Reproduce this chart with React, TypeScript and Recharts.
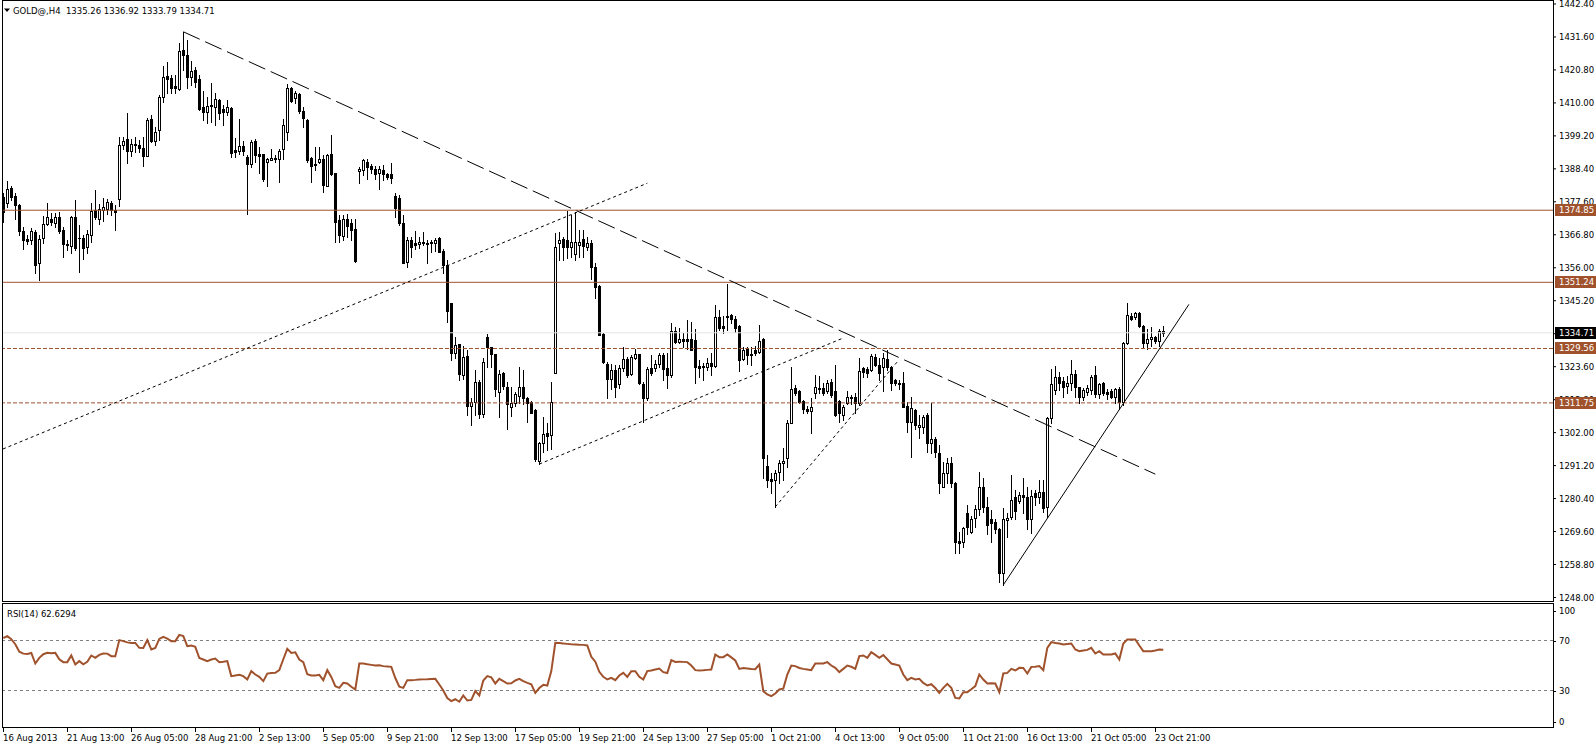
import React from "react";
import { ComposedChart, Bar, Line, XAxis, YAxis, ReferenceLine } from "recharts";

const FONT = "'DejaVu Sans', Verdana, sans-serif";
const SIENNA = "#a0522d";

// H4 candles, one per bar index
const OPEN = [
  1379.3, 1377.3, 1382.0, 1379.5, 1376.5, 1368.1, 1365.5, 1365.1, 1367.7, 1357.4,
  1365.6, 1370.3, 1372.1, 1370.8, 1372.6, 1368.4, 1363.7, 1363.1, 1372.7, 1365.9,
  1365.9, 1362.9, 1366.6, 1374.9, 1372.1, 1374.9, 1375.4, 1377.2, 1374.9, 1378.4,
  1396.2, 1398.2, 1394.4, 1396.4, 1396.1, 1395.2, 1392.7, 1404.7, 1397.6, 1401.1,
  1412.0, 1418.8, 1418.2, 1415.5, 1414.6, 1427.3, 1425.8, 1418.6, 1420.8, 1417.8,
  1408.8, 1406.9, 1409.3, 1408.8, 1411.0, 1407.9, 1406.9, 1408.2, 1394.6, 1394.1,
  1395.9, 1392.4, 1389.9, 1397.6, 1393.3, 1393.2, 1390.5, 1391.3, 1391.9, 1391.6,
  1394.8, 1400.6, 1414.8, 1411.5, 1412.9, 1407.4, 1404.4, 1391.8, 1390.0, 1390.8,
  1391.6, 1382.9, 1393.2, 1386.9, 1371.6, 1366.4, 1371.9, 1370.8, 1368.6, 1387.8,
  1388.0, 1390.6, 1389.3, 1388.5, 1386.9, 1388.0, 1386.7, 1386.7, 1379.5, 1378.8,
  1370.6, 1358.0, 1365.1, 1364.0, 1363.7, 1364.6, 1364.2, 1364.6, 1364.2, 1365.9,
  1361.5, 1356.9, 1344.4, 1328.0, 1330.9, 1320.8, 1327.1, 1310.7, 1312.1, 1318.5,
  1308.0, 1333.4, 1329.9, 1327.7, 1315.4, 1321.6, 1317.1, 1310.5, 1311.6, 1314.0,
  1316.8, 1313.2, 1312.0, 1309.4, 1292.8, 1298.7, 1302.0, 1301.2, 1321.6, 1364.2,
  1365.3, 1365.1, 1362.7, 1360.5, 1363.5, 1365.3, 1362.7, 1364.2, 1356.4, 1350.0,
  1334.3, 1324.5, 1319.5, 1322.5, 1317.8, 1323.1, 1326.1, 1321.1, 1326.3, 1327.7,
  1317.9, 1313.5, 1323.1, 1323.3, 1324.5, 1327.4, 1323.3, 1320.9, 1335.3, 1331.8,
  1332.6, 1332.6, 1332.6, 1332.3, 1323.8, 1323.4, 1323.4, 1324.7, 1323.8, 1339.8,
  1336.9, 1339.8, 1340.5, 1339.1, 1336.9, 1326.0, 1329.3, 1327.7, 1329.1, 1328.5,
  1332.6, 1291.1, 1286.7, 1286.5, 1289.2, 1292.1, 1293.6, 1305.3, 1316.5, 1315.7,
  1312.5, 1309.7, 1309.0, 1314.9, 1316.5, 1316.5, 1315.7, 1318.7, 1315.6, 1312.5,
  1307.8, 1311.6, 1313.2, 1313.8, 1311.6, 1323.1, 1322.7, 1322.5, 1326.7, 1324.2,
  1323.6, 1326.0, 1323.4, 1319.2, 1318.4, 1318.4, 1310.7, 1305.6, 1309.4, 1303.7,
  1304.0, 1307.8, 1298.7, 1299.8, 1295.4, 1284.3, 1288.9, 1291.9, 1285.6, 1266.5,
  1266.3, 1275.6, 1269.6, 1274.2, 1276.9, 1284.1, 1277.5, 1273.6, 1272.8, 1270.3,
  1256.1, 1273.4, 1274.5, 1280.8, 1279.7, 1281.6, 1281.0, 1273.6, 1282.1, 1280.8,
  1282.6, 1277.5, 1306.7, 1315.9, 1320.1, 1319.0, 1317.3, 1318.1, 1321.2, 1316.8,
  1313.8, 1315.4, 1316.0, 1320.9, 1314.6, 1318.1, 1315.4, 1315.7, 1313.8, 1316.2,
  1312.1, 1331.2, 1340.2, 1339.8, 1341.3, 1336.9, 1331.3, 1332.6, 1333.2, 1332.1,
  1335.26,
];

const HIGH = [
  1380.4, 1384.5, 1382.8, 1380.4, 1377.0, 1369.4, 1366.7, 1368.9, 1368.4, 1366.7,
  1372.9, 1377.3, 1373.8, 1374.0, 1374.2, 1369.4, 1365.1, 1372.9, 1378.2, 1370.0,
  1366.7, 1368.4, 1377.1, 1381.5, 1376.9, 1378.9, 1378.6, 1377.9, 1376.4, 1398.9,
  1398.9, 1406.6, 1398.1, 1398.7, 1397.9, 1398.9, 1404.9, 1406.0, 1402.2, 1412.6,
  1422.1, 1423.4, 1419.1, 1419.1, 1429.5, 1433.3, 1430.6, 1423.7, 1421.9, 1419.1,
  1414.0, 1412.0, 1416.4, 1413.4, 1411.2, 1409.3, 1411.0, 1408.5, 1398.4, 1404.6,
  1397.6, 1392.9, 1397.8, 1398.1, 1395.5, 1393.4, 1391.8, 1394.8, 1392.9, 1394.8,
  1404.6, 1416.2, 1415.3, 1413.9, 1413.4, 1408.8, 1404.6, 1392.4, 1395.7, 1395.4,
  1392.9, 1393.2, 1399.5, 1387.1, 1373.3, 1373.3, 1373.6, 1371.9, 1371.9, 1389.1,
  1391.5, 1391.5, 1390.0, 1389.3, 1389.3, 1389.7, 1386.9, 1390.4, 1380.4, 1379.8,
  1373.3, 1366.2, 1366.2, 1368.2, 1366.2, 1367.8, 1365.1, 1365.1, 1365.6, 1366.2,
  1362.0, 1358.6, 1344.6, 1333.4, 1331.0, 1330.4, 1329.1, 1313.2, 1322.5, 1319.2,
  1326.3, 1334.3, 1330.2, 1327.9, 1322.5, 1322.0, 1318.7, 1317.1, 1315.4, 1323.4,
  1322.5, 1313.6, 1312.2, 1309.6, 1299.0, 1307.2, 1305.0, 1318.7, 1367.3, 1367.8,
  1366.2, 1374.7, 1373.3, 1374.4, 1368.4, 1368.4, 1366.2, 1365.1, 1357.5, 1350.2,
  1334.5, 1325.2, 1324.5, 1324.1, 1324.1, 1329.9, 1326.9, 1327.4, 1329.3, 1327.9,
  1318.7, 1323.6, 1327.4, 1325.8, 1328.0, 1328.0, 1328.0, 1338.0, 1336.5, 1336.2,
  1334.5, 1338.9, 1338.3, 1335.8, 1325.8, 1324.9, 1326.3, 1328.0, 1343.8, 1342.2,
  1340.2, 1350.7, 1340.9, 1340.2, 1337.3, 1329.9, 1330.2, 1329.9, 1330.4, 1337.3,
  1332.9, 1294.7, 1288.7, 1289.8, 1293.0, 1296.9, 1306.1, 1323.6, 1317.6, 1315.9,
  1312.7, 1310.7, 1313.2, 1320.9, 1320.5, 1318.1, 1319.2, 1319.5, 1324.2, 1312.7,
  1311.0, 1315.7, 1314.3, 1315.1, 1326.3, 1323.4, 1323.6, 1327.8, 1327.8, 1326.3,
  1328.0, 1329.1, 1323.8, 1319.5, 1319.2, 1322.0, 1312.1, 1313.8, 1309.6, 1307.8,
  1307.8, 1308.5, 1311.8, 1300.5, 1297.9, 1292.5, 1293.6, 1293.9, 1285.9, 1269.6,
  1271.2, 1278.3, 1274.7, 1278.3, 1289.2, 1287.0, 1281.0, 1276.6, 1273.6, 1270.6,
  1277.2, 1275.8, 1288.1, 1283.2, 1282.6, 1287.0, 1284.3, 1283.2, 1283.2, 1286.5,
  1286.5, 1307.2, 1322.7, 1323.8, 1321.9, 1320.3, 1320.5, 1325.8, 1322.5, 1317.0,
  1316.5, 1317.6, 1320.9, 1323.8, 1318.4, 1318.7, 1316.2, 1316.2, 1316.5, 1316.8,
  1331.8, 1344.4, 1341.1, 1341.6, 1341.6, 1337.3, 1335.8, 1336.5, 1333.6, 1336.0,
  1336.92,
];

const LOW = [
  1370.9, 1376.0, 1378.2, 1371.9, 1366.7, 1362.2, 1363.8, 1363.8, 1354.2, 1352.0,
  1364.2, 1369.9, 1370.0, 1369.2, 1367.3, 1359.6, 1361.8, 1361.0, 1361.8, 1354.7,
  1359.0, 1360.7, 1364.5, 1371.9, 1370.5, 1371.4, 1373.6, 1373.4, 1368.4, 1376.2,
  1394.8, 1390.4, 1392.7, 1394.0, 1394.0, 1389.4, 1392.5, 1397.3, 1396.1, 1397.8,
  1410.4, 1413.4, 1413.4, 1413.1, 1414.2, 1420.8, 1415.0, 1415.9, 1415.3, 1407.7,
  1404.4, 1403.3, 1403.8, 1402.8, 1404.6, 1402.8, 1406.0, 1392.4, 1392.2, 1393.2,
  1392.9, 1373.5, 1389.1, 1390.8, 1386.9, 1384.5, 1382.9, 1391.2, 1390.8, 1384.2,
  1391.5, 1397.8, 1410.4, 1409.9, 1406.6, 1402.2, 1390.8, 1384.2, 1388.0, 1390.2,
  1380.9, 1382.8, 1386.4, 1364.6, 1364.6, 1365.1, 1366.2, 1365.1, 1358.0, 1383.9,
  1386.4, 1385.0, 1386.9, 1385.0, 1381.7, 1384.7, 1385.0, 1383.9, 1372.7, 1370.0,
  1357.5, 1356.4, 1359.6, 1362.0, 1362.4, 1363.5, 1357.5, 1361.3, 1361.6, 1361.1,
  1354.2, 1338.3, 1325.8, 1326.3, 1319.2, 1319.5, 1307.8, 1304.5, 1307.8, 1306.7,
  1307.2, 1323.4, 1323.6, 1314.0, 1307.2, 1316.2, 1303.1, 1307.4, 1310.7, 1311.6,
  1311.4, 1305.6, 1308.3, 1292.8, 1291.7, 1295.8, 1296.3, 1296.5, 1321.4, 1358.6,
  1358.6, 1359.1, 1359.6, 1358.6, 1359.6, 1359.6, 1361.8, 1352.2, 1346.0, 1334.0,
  1324.9, 1313.2, 1316.2, 1313.8, 1316.5, 1322.3, 1320.1, 1320.9, 1326.0, 1317.9,
  1305.6, 1312.7, 1320.9, 1322.3, 1323.4, 1319.2, 1316.5, 1320.1, 1331.5, 1331.3,
  1330.1, 1329.3, 1329.0, 1318.4, 1320.3, 1319.4, 1322.5, 1320.9, 1323.6, 1335.6,
  1334.5, 1335.6, 1337.8, 1335.1, 1322.3, 1325.8, 1324.5, 1324.1, 1327.4, 1328.0,
  1287.0, 1284.1, 1282.1, 1277.7, 1285.4, 1286.5, 1290.8, 1305.0, 1314.3, 1311.8,
  1308.5, 1308.3, 1302.0, 1313.2, 1314.9, 1314.3, 1314.9, 1313.8, 1307.4, 1305.6,
  1306.3, 1311.4, 1311.4, 1308.3, 1311.0, 1320.3, 1320.1, 1322.3, 1323.8, 1319.2,
  1315.7, 1322.5, 1316.0, 1317.6, 1316.2, 1310.3, 1302.3, 1294.1, 1303.1, 1300.1,
  1301.8, 1295.8, 1295.4, 1294.1, 1282.3, 1284.1, 1285.6, 1284.3, 1262.5, 1262.5,
  1264.6, 1268.8, 1269.0, 1271.2, 1275.0, 1276.1, 1268.8, 1266.3, 1269.2, 1253.2,
  1252.1, 1267.9, 1273.6, 1273.6, 1278.8, 1275.6, 1270.3, 1269.0, 1278.3, 1278.8,
  1276.1, 1274.5, 1305.0, 1314.6, 1316.0, 1313.8, 1314.9, 1316.0, 1313.6, 1311.6,
  1312.7, 1314.3, 1314.6, 1313.8, 1313.2, 1314.3, 1312.9, 1313.2, 1311.6, 1309.9,
  1311.0, 1331.0, 1338.9, 1339.1, 1336.5, 1329.6, 1329.3, 1330.4, 1331.5, 1330.5,
  1333.79,
];

const CLOSE = [
  1374.4, 1381.7, 1379.3, 1376.4, 1368.1, 1365.1, 1364.9, 1368.0, 1356.9, 1365.4,
  1370.3, 1372.5, 1371.0, 1372.5, 1368.1, 1363.8, 1363.4, 1372.7, 1362.5, 1365.6,
  1362.6, 1366.9, 1374.7, 1372.5, 1375.1, 1376.0, 1377.5, 1374.9, 1374.4, 1396.1,
  1397.4, 1394.4, 1396.5, 1396.1, 1395.2, 1392.7, 1404.4, 1397.6, 1400.4, 1411.8,
  1418.6, 1417.9, 1415.0, 1415.0, 1427.1, 1425.7, 1418.6, 1420.4, 1417.0, 1408.0,
  1407.1, 1409.0, 1409.1, 1411.2, 1406.6, 1406.9, 1408.6, 1393.7, 1393.8, 1395.9,
  1394.4, 1389.9, 1397.3, 1392.9, 1392.7, 1385.0, 1391.6, 1391.8, 1391.5, 1394.2,
  1402.8, 1414.8, 1410.7, 1413.1, 1407.4, 1405.2, 1391.3, 1389.3, 1389.6, 1391.6,
  1383.1, 1392.9, 1386.7, 1371.1, 1366.7, 1371.9, 1369.8, 1368.4, 1358.2, 1388.3,
  1391.3, 1388.9, 1388.3, 1386.7, 1388.2, 1386.7, 1385.6, 1385.3, 1375.5, 1370.6,
  1357.7, 1365.1, 1362.9, 1363.5, 1364.6, 1364.2, 1363.8, 1364.0, 1365.1, 1361.3,
  1356.9, 1341.9, 1328.2, 1330.7, 1321.2, 1326.9, 1310.7, 1311.9, 1318.5, 1308.0,
  1325.2, 1329.9, 1327.7, 1316.2, 1321.2, 1317.3, 1311.4, 1311.6, 1314.6, 1316.8,
  1313.2, 1311.6, 1308.5, 1293.3, 1298.5, 1301.4, 1300.9, 1312.1, 1362.7, 1365.1,
  1362.9, 1362.9, 1364.6, 1364.6, 1364.6, 1363.1, 1364.0, 1356.4, 1349.8, 1334.0,
  1325.2, 1319.5, 1322.5, 1317.1, 1323.1, 1326.0, 1320.9, 1326.7, 1327.7, 1318.1,
  1313.4, 1322.7, 1321.6, 1324.5, 1327.4, 1322.7, 1320.9, 1335.3, 1331.8, 1332.7,
  1332.1, 1332.1, 1329.1, 1323.6, 1323.3, 1323.8, 1324.7, 1323.8, 1339.8, 1336.2,
  1336.2, 1340.2, 1339.1, 1336.2, 1325.8, 1329.1, 1327.4, 1327.3, 1328.0, 1332.1,
  1293.6, 1286.5, 1286.3, 1288.7, 1292.1, 1292.8, 1305.2, 1316.2, 1314.9, 1312.1,
  1309.6, 1309.2, 1310.3, 1316.8, 1316.2, 1315.1, 1318.4, 1314.3, 1307.8, 1308.3,
  1310.3, 1313.6, 1313.8, 1311.6, 1322.3, 1322.0, 1321.4, 1327.1, 1324.2, 1321.6,
  1326.3, 1323.4, 1318.4, 1318.1, 1317.9, 1310.5, 1305.6, 1310.0, 1304.5, 1304.5,
  1307.0, 1298.7, 1299.8, 1295.8, 1285.6, 1288.9, 1291.9, 1285.6, 1266.3, 1265.9,
  1270.6, 1271.2, 1273.6, 1276.9, 1284.1, 1277.7, 1271.7, 1272.3, 1270.3, 1256.1,
  1273.6, 1274.2, 1279.9, 1276.4, 1281.6, 1280.8, 1273.6, 1281.2, 1281.0, 1282.6,
  1277.2, 1306.7, 1317.9, 1320.1, 1318.1, 1317.0, 1318.4, 1321.2, 1316.8, 1313.8,
  1316.0, 1316.5, 1320.3, 1314.6, 1317.8, 1315.1, 1314.6, 1313.8, 1316.2, 1312.1,
  1331.2, 1340.5, 1339.1, 1341.3, 1336.9, 1331.5, 1332.6, 1333.4, 1332.1, 1335.3,
  1334.71,
];

// RSI(14)
const RSI = [
  72, 73.5, 71, 67, 61, 59.5, 59.3, 60, 51.6, 56.1,
  59, 60.1, 59.8, 60.1, 55, 52.7, 52.7, 58, 50.8, 53.5,
  51, 53, 58, 56.1, 58.5, 59.6, 59.5, 57.5, 57.5, 70.3,
  69.5, 68.5, 68.1, 68.1, 64.1, 64, 70.3, 62.8, 64.1, 71.3,
  72.9, 71.5, 69.5, 69.5, 74.5, 73.5, 65.5, 66, 64.9, 56,
  54.8, 53.5, 54.8, 55.6, 52.7, 53, 53.5, 41.5, 42, 42.5,
  41.5, 38.8, 45.5, 42.8, 40.9, 37.5, 43.5, 44, 44.1, 46.3,
  55, 63.3, 60.1, 60.6, 54.8, 52.7, 43, 42, 42, 42.5,
  38.3, 46.3, 40.9, 33.5, 32.1, 36.1, 35.6, 33, 30.8, 51.6,
  51.6, 51, 50.5, 50, 50.2, 49.5, 49.2, 48.9, 40, 33,
  32.1, 38.3, 38.3, 38.5, 38.8, 38.9, 39, 39.2, 39.3, 34.8,
  30, 24, 21.5, 23, 21, 26, 22, 22.5, 29.5, 26,
  38, 41.5, 40.5, 35.6, 39.3, 37.5, 35.6, 35.8, 38, 39.3,
  37.5, 36.1, 35, 28.1, 32, 34.5, 34, 45.5, 68.1, 68,
  67.6, 67.3, 67, 66.8, 66.6, 66.5, 66, 57, 53, 45,
  40.9, 38.8, 40.1, 38.3, 42, 44.1, 40.9, 45.5, 45.5, 40.9,
  38.8, 45.5, 46, 46.8, 47.6, 44.7, 44, 54.3, 52.9, 53,
  52.9, 52.7, 50, 46.3, 46, 46.2, 46.5, 46.8, 58.8, 56.7,
  56.7, 58.8, 56.5, 54, 47.3, 48, 47.6, 47.2, 47, 50.8,
  29.5, 26.8, 25.5, 27.6, 30.8, 31.5, 42.8, 50, 49.5, 48,
  47.3, 46.8, 46.3, 51.6, 51.6, 51.6, 52.7, 50, 48.1, 44.7,
  47.3, 50, 49, 47.3, 57.5, 58, 56.1, 60.7, 58.5, 56.1,
  58.3, 55, 51.6, 50.8, 50, 42.8, 38.3, 40.1, 38.8, 39.3,
  36.1, 34, 35, 32, 28.1, 32.1, 35.3, 32.1, 24.1, 23.6,
  28.7, 28.7, 31, 33.5, 42.8, 38.8, 35.6, 35.8, 35.6, 28.7,
  43.6, 44.1, 47.3, 46, 48.1, 48, 43.6, 48.9, 49, 49.5,
  46.3, 64.1, 68.7, 68, 67.6, 66.8, 67.2, 67.6, 62.8, 61.5,
  62, 62.5, 64.1, 59.6, 61.5, 58.8, 58.8, 58.8, 59.6, 54.8,
  67.6, 70.8, 70.8, 70.8, 66, 61.5, 61.5, 61.5, 62, 62.8,
  62.6294,
];

const TIME_LABELS = [
  "16 Aug 2013", "21 Aug 13:00", "26 Aug 05:00", "28 Aug 21:00", "2 Sep 13:00",
  "5 Sep 05:00", "9 Sep 21:00", "12 Sep 13:00", "17 Sep 05:00", "19 Sep 21:00",
  "24 Sep 13:00", "27 Sep 05:00", "1 Oct 21:00", "4 Oct 13:00", "9 Oct 05:00",
  "11 Oct 21:00", "16 Oct 13:00", "21 Oct 05:00", "23 Oct 21:00",
];
const BARS_PER_LABEL = 16;

const PRICE_TICKS = [
  1442.4, 1431.6, 1420.8, 1410.0, 1399.2, 1388.4, 1377.6, 1366.8, 1356.0, 1345.2,
  1334.4, 1323.6, 1312.8, 1302.0, 1291.2, 1280.4, 1269.6, 1258.8, 1248.0,
];
const RSI_TICKS = [0, 30, 70, 100];

const LEVEL_PRICES = [1374.85, 1351.24, 1329.56, 1311.75];
const LEVEL_DASHED = [false, false, true, true];
const BID = 1334.71;

// trend lines: [barIndex, price] pairs
const LONG_DASH_LINE = [[45, 1433.3], [288, 1288.4]];
const DOTTED_LINES = [
  [[-0.075, 1296.64], [161, 1383.7]],
  [[134, 1291.7], [210, 1333.0]],
  [[193, 1277.7], [223.5, 1325.2]],
];
const SOLID_LINE = [[250, 1252.1], [296.4, 1344.0]];

const X_MIN = -0.075;
const X_MAX = 387.425;
const Y_MIN = 1246.85;
const Y_MAX = 1443.38;

const data = OPEN.map((o, i) => ({
  i,
  o,
  h: HIGH[i],
  l: LOW[i],
  c: CLOSE[i],
  rsi: RSI[i],
}));

const timeTicks = TIME_LABELS.map((_, k) => k * BARS_PER_LABEL);

function Candle(props: any) {
  const { x, y, width, height, payload } = props;
  if (x == null || y == null || !payload) return null;
  const { o, h, l, c } = payload;
  const cx = Math.round(x + width / 2);
  const span = h - l || 1;
  const py = (v: number) => y + ((h - v) / span) * height;
  const yHigh = Math.round(y);
  const yLow = Math.round(y + height);
  const top = Math.round(py(Math.max(o, c)));
  const bot = Math.round(py(Math.min(o, c)));
  const bull = c >= o;
  return (
    <g>
      <line x1={cx + 0.5} x2={cx + 0.5} y1={yHigh} y2={yLow + 1} stroke="#000" strokeWidth={1} />
      {bull ? (
        <rect x={cx - 0.5} y={top + 0.5} width={2} height={Math.max(bot - top, 1)} fill="#fff" stroke="#000" strokeWidth={1} />
      ) : (
        <rect x={cx - 1} y={top} width={3} height={Math.max(bot - top + 1, 1)} fill="#000" />
      )}
    </g>
  );
}

function priceTag(value: number, bg: string) {
  return (props: any) => {
    const vb = props.viewBox;
    if (!vb) return null;
    const x0 = vb.x + vb.width + 2;
    const yc = Math.round(vb.y);
    return (
      <g>
        <rect x={x0} y={yc - 6} width={41} height={12} fill={bg} />
        <text x={x0 + 4} y={yc + 3} fontSize={8.5} fontFamily={FONT} fill="#fff">
          {value.toFixed(2)}
        </text>
      </g>
    );
  };
}

function TimeTick(props: any) {
  const { x, y, payload } = props;
  const k = Math.round(payload.value / BARS_PER_LABEL);
  const xi = Math.round(x);
  return (
    <g>
      <line x1={xi + 0.5} x2={xi + 0.5} y1={y} y2={y + 4} stroke="#000" />
      <text x={xi} y={y + 12.5} fontSize={8.5} fontFamily={FONT} fill="#000" textAnchor="start">
        {TIME_LABELS[k]}
      </text>
    </g>
  );
}

function RsiTick(props: any) {
  const { x, y, payload } = props;
  const v = payload.value;
  const dy = v === 100 ? 8 : v === 0 ? -6 : 0;
  const yy = Math.round(y + dy);
  return (
    <g>
      <line x1={x - 6} x2={x - 3} y1={yy + 0.5} y2={yy + 0.5} stroke="#000" />
      <text x={x} y={yy} dy="0.355em" fontSize={8.5} fontFamily={FONT} fill="#000" textAnchor="start">
        {v}
      </text>
    </g>
  );
}

const seg = (s: number[][]) => [
  { x: s[0][0], y: s[0][1] },
  { x: s[1][0], y: s[1][1] },
];

const MAIN_MARGIN = { top: 1, right: 0, bottom: 2, left: 3 };

export default function App() {
  return (
    <div style={{ position: "absolute", left: 0, top: 0, width: 1596, height: 746, background: "#fff", overflow: "hidden" }}>
      <div style={{ position: "absolute", left: 0, top: 0 }}>
        <ComposedChart width={1596} height={603} data={data} margin={MAIN_MARGIN}>
          <XAxis type="number" dataKey="i" domain={[X_MIN, X_MAX]} allowDataOverflow hide />
          <YAxis
            orientation="right"
            width={43}
            domain={[Y_MIN, Y_MAX]}
            allowDataOverflow
            ticks={PRICE_TICKS}
            interval={0}
            tickFormatter={(v: number) => v.toFixed(2)}
            tick={{ fontSize: 8.5, fill: "#000", fontFamily: FONT }}
            tickSize={3}
            tickMargin={3}
            axisLine={false}
            tickLine={{ stroke: "#000" }}
          />
          <ReferenceLine y={BID} stroke="#e6e6e6" ifOverflow="visible" />
          <Bar
            dataKey={(d: any) => [d.l, d.h]}
            barSize={3}
            shape={(p: any) => <Candle {...p} />}
            isAnimationActive={false}
          />
          {LEVEL_PRICES.map((p, k) => (
            <ReferenceLine
              key={p}
              y={p}
              stroke={SIENNA}
              strokeWidth={1}
              strokeDasharray={LEVEL_DASHED[k] ? "4 2" : undefined}
              ifOverflow="visible"
            />
          ))}
          <ReferenceLine segment={seg(LONG_DASH_LINE)} stroke="#000" strokeWidth={1} strokeDasharray="18 6" ifOverflow="visible" />
          {DOTTED_LINES.map((s, k) => (
            <ReferenceLine key={k} segment={seg(s)} stroke="#000" strokeWidth={1} strokeDasharray="3 3" ifOverflow="visible" />
          ))}
          <ReferenceLine segment={seg(SOLID_LINE)} stroke="#000" strokeWidth={1} ifOverflow="visible" />
        </ComposedChart>
      </div>

      {/* price tags sit above the axis labels, same scale as the main pane */}
      <div style={{ position: "absolute", left: 0, top: 0, pointerEvents: "none" }}>
        <ComposedChart width={1596} height={603} data={data} margin={{ ...MAIN_MARGIN, right: 43 }}>
          <XAxis type="number" dataKey="i" domain={[X_MIN, X_MAX]} allowDataOverflow hide />
          <YAxis domain={[Y_MIN, Y_MAX]} allowDataOverflow hide />
          <ReferenceLine y={BID} stroke="none" ifOverflow="visible" label={priceTag(BID, "#000")} />
          {LEVEL_PRICES.map((p) => (
            <ReferenceLine key={p} y={p} stroke="none" ifOverflow="visible" label={priceTag(p, SIENNA)} />
          ))}
        </ComposedChart>
      </div>

      <div style={{ position: "absolute", left: 0, top: 603 }}>
        <ComposedChart width={1596} height={143} data={data} margin={{ top: 0, right: 0, bottom: 0, left: 3 }}>
          <XAxis
            type="number"
            dataKey="i"
            domain={[X_MIN, X_MAX]}
            allowDataOverflow
            ticks={timeTicks}
            interval={0}
            height={18}
            tickSize={0}
            tickMargin={0}
            axisLine={false}
            tickLine={false}
            tick={(p: any) => <TimeTick {...p} />}
          />
          <YAxis
            orientation="right"
            width={43}
            domain={[0, 100]}
            ticks={RSI_TICKS}
            interval={0}
            tickSize={3}
            tickMargin={3}
            axisLine={false}
            tickLine={false}
            tick={(p: any) => <RsiTick {...p} />}
          />
          <ReferenceLine y={70} stroke="#808080" strokeDasharray="3 3" />
          <ReferenceLine y={30} stroke="#808080" strokeDasharray="3 3" />
          <Line
            type="linear"
            dataKey="rsi"
            stroke={SIENNA}
            strokeWidth={2}
            dot={false}
            activeDot={false}
            isAnimationActive={false}
          />
        </ComposedChart>
      </div>

      <svg width={1596} height={746} style={{ position: "absolute", left: 0, top: 0, pointerEvents: "none" }}>
        <g stroke="#000" strokeWidth={1} fill="none">
          <line x1={2.5} y1={0} x2={2.5} y2={602} />
          <line x1={2} y1={0.5} x2={1554} y2={0.5} />
          <line x1={2} y1={601.5} x2={1554} y2={601.5} />
          <line x1={1553.5} y1={0} x2={1553.5} y2={602} />
          <line x1={2.5} y1={603} x2={2.5} y2={728} />
          <line x1={2} y1={603.5} x2={1554} y2={603.5} />
          <line x1={2} y1={727.5} x2={1554} y2={727.5} />
          <line x1={1553.5} y1={603} x2={1553.5} y2={728} />
        </g>
        <polygon points="4,8.5 10,8.5 7,12" fill="#000" />
        <text x={13} y={13.5} fontSize={8.5} fontFamily={FONT} fill="#000" style={{ whiteSpace: "pre" }}>
          {"GOLD@,H4  1335.26 1336.92 1333.79 1334.71"}
        </text>
        <text x={7} y={616.5} fontSize={8.5} fontFamily={FONT} fill="#000">
          RSI(14) 62.6294
        </text>
      </svg>
    </div>
  );
}
